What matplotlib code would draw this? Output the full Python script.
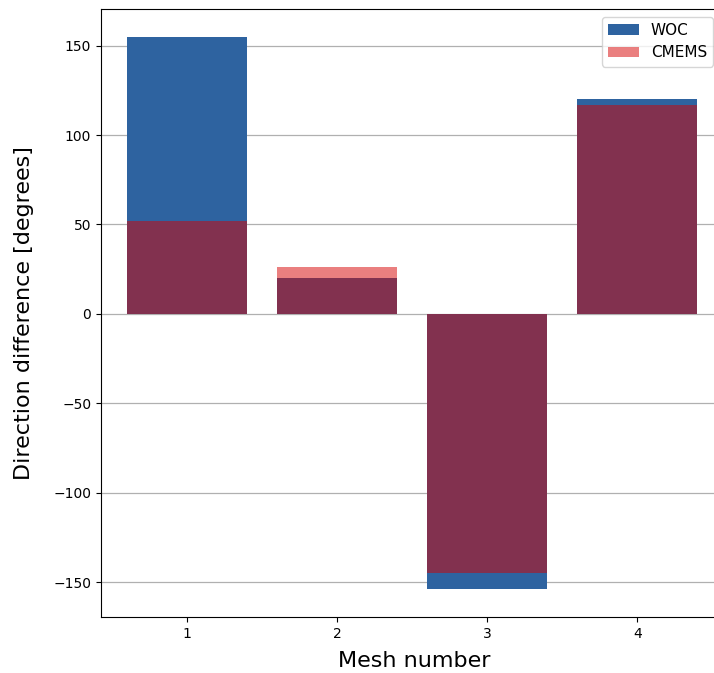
import matplotlib
matplotlib.use("Agg")
import matplotlib.pyplot as plt
import numpy as np

mesh = [1, 2, 3, 4]
woc = [155, 20, -154, 120]
cmems = [52, 26, -145, 117]

fig = plt.figure(figsize=(7.14, 6.73), dpi=100)
ax = fig.add_axes([0.1415, 0.0832, 0.877, 0.9034])
ax.bar(mesh, woc, color="#2E63A0", label="WOC", zorder=2)
ax.bar(mesh, cmems, color="#D60000", alpha=0.5, label="CMEMS", zorder=3)
ax.set_xticks(mesh)
ax.set_xlim(0.425, 4.6)
ax.yaxis.grid(True, color="#b0b0b0", lw=0.9, zorder=0)
ax.set_axisbelow(True)
ax.set_xlabel("Mesh number", fontsize=16)
ax.set_ylabel("Direction difference [degrees]", fontsize=16)
ax.xaxis.set_label_coords(0.5, -0.056)
ax.yaxis.set_label_coords(-0.107, 0.5)
ax.legend(loc="upper right", bbox_to_anchor=(0.99, 1.0), fontsize=11)
fig.savefig("out.png", dpi=100)
